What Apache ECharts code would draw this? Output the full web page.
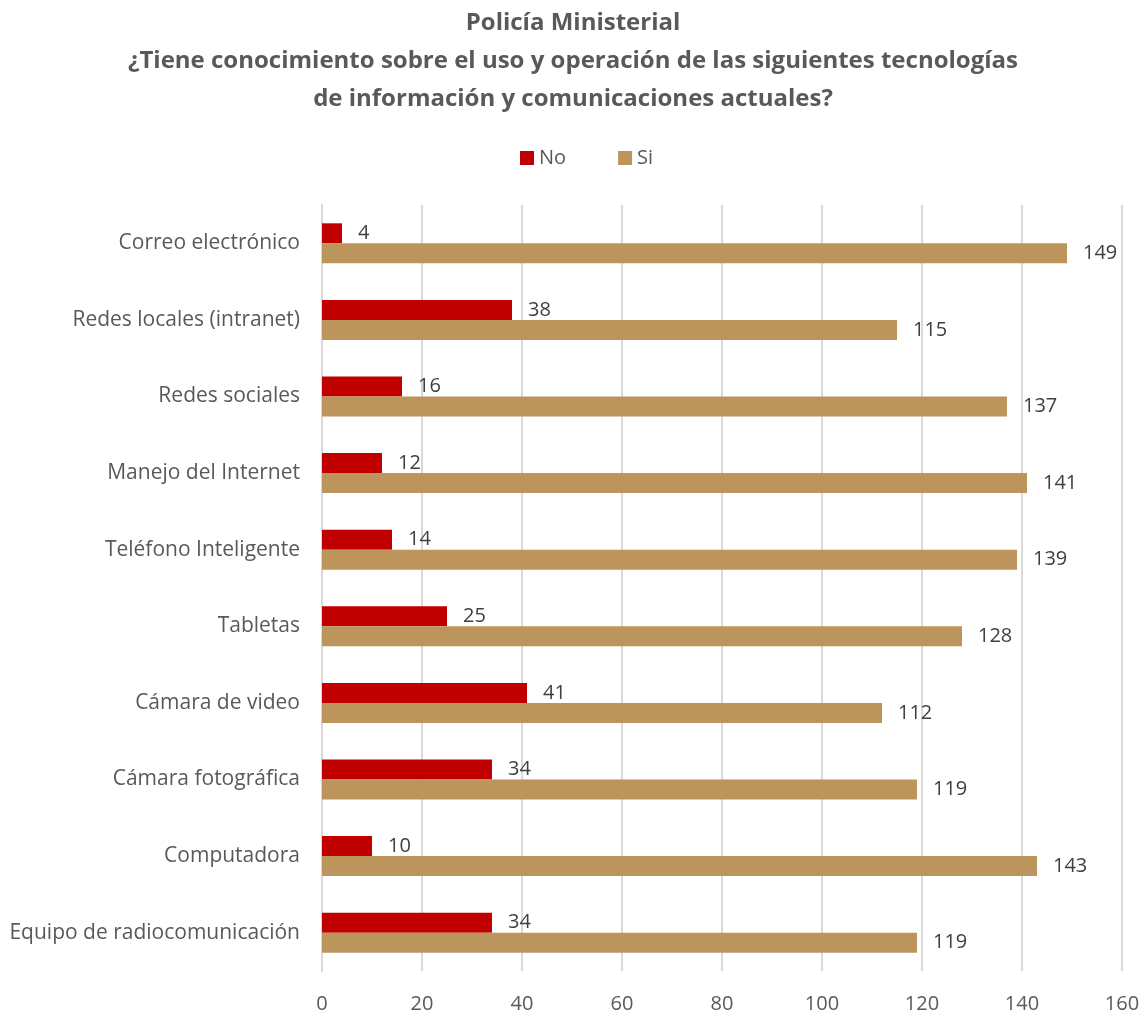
<!DOCTYPE html>
<html><head><meta charset="utf-8">
<script src="https://cdn.jsdelivr.net/npm/echarts@6/dist/echarts.min.js"></script>
<style>html,body{margin:0;padding:0;background:#fff}#c{width:1146px;height:1017px}</style>
</head><body><div id="c"></div>
<script>
const categories = ["Correo electrónico","Redes locales (intranet)","Redes sociales","Manejo del Internet","Teléfono Inteligente","Tabletas","Cámara de video","Cámara fotográfica","Computadora","Equipo de radiocomunicación"];
const noValues = [4,38,16,12,14,25,41,34,10,34];
const siValues = [149,115,137,141,139,128,112,119,143,119];
const titleLines = ["Policía Ministerial","¿Tiene conocimiento sobre el uso y operación de las siguientes tecnologías","de información y comunicaciones actuales?"];
const FONT = "'Open Sans', sans-serif";
const chart = echarts.init(document.getElementById('c'));
const lbl = {show:true, position:'right', distance:16, color:'#404040', fontSize:20, fontFamily:FONT};
chart.setOption({
  animation:false,
  title:{text:titleLines.join('\n'), left:'center', top:-1, textStyle:{fontFamily:FONT, fontWeight:'bold', fontSize:24, color:'#595959', lineHeight:38}},
  legend:{data:['No','Si'], top:143, left:515, itemWidth:14, itemHeight:14, itemGap:52, icon:'rect',
    textStyle:{fontFamily:FONT, fontSize:20, color:'#595959'}},
  grid:{left:322, right:24, top:205, bottom:46, containLabel:false},
  xAxis:{type:'value', min:0, max:160, interval:20,
    axisLine:{show:false}, axisTick:{show:false},
    splitLine:{lineStyle:{color:'#d9d9d9', width:2}},
    axisLabel:{fontFamily:FONT, fontSize:20, color:'#595959', margin:23}},
  yAxis:{type:'category', data:categories, inverse:true,
    axisLine:{lineStyle:{color:'#d9d9d9', width:2}}, axisTick:{show:false},
    axisLabel:{fontFamily:FONT, fontSize:21, color:'#595959', margin:22}},
  series:[
    {name:'No', type:'bar', data:noValues, itemStyle:{color:'#C00000'}, barWidth:20, barGap:'0%', label:lbl},
    {name:'Si', type:'bar', data:siValues, itemStyle:{color:'#BC955C'}, barWidth:20, barGap:'0%', label:lbl}
  ]
});
</script></body></html>
